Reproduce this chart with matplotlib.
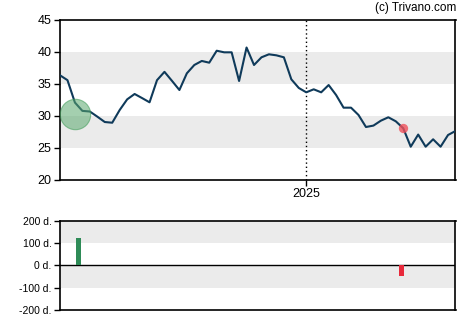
import matplotlib
matplotlib.use("Agg")
import matplotlib.pyplot as plt
import matplotlib.dates as mdates
import numpy as np
import pandas as pd

plt.rcParams['font.family'] = ['Liberation Sans', 'DejaVu Sans']

start_date = "2024-05-15"
prices = [36.36, 35.6, 32.1, 30.8, 30.7, 29.9, 29.06, 28.95, 30.94, 32.6,
          33.44, 32.8, 32.14, 35.6, 36.9, 35.5, 34.06, 36.67, 37.97, 38.6,
          38.33, 40.2, 39.95, 39.95, 35.47, 40.7, 37.97, 39.17, 39.64, 39.48,
          39.17, 35.73, 34.38, 33.7, 34.17, 33.7, 34.84, 33.28, 31.3, 31.3,
          30.16, 28.28, 28.5, 29.27, 29.8, 29.17, 28.08, 25.2, 27.1, 25.2,
          26.36, 25.2, 27.03, 27.66]
dates = pd.date_range(start_date, periods=len(prices), freq="7D")

buy_date = "2024-05-29"
buy_price = 30.27
sell_date = "2025-04-02"
sell_price = 28.08

bar_dates = ["2024-06-01", "2025-03-31"]
bar_values = [122, -46]
bar_colors = ["#2e8b57", "#e8293b"]

y_ticks = [20, 25, 30, 35, 40, 45]
bar_ticks = [-200, -100, 0, 100, 200]
bar_tick_labels = ["-200 d.", "-100 d.", "0 d.", "100 d.", "200 d."]
year_tick = "2025-01-01"

W, H = 470, 325
fig = plt.figure(figsize=(W/100, H/100), dpi=100)
ax = fig.add_axes([60/W, 1-180/H, 395.5/W, 160/H])
ax2 = fig.add_axes([60/W, 1-310/H, 395.5/W, 89.3/H])

band = "#ebebeb"
for a, b in [(25, 30), (35, 40)]:
    ax.axhspan(a, b, color=band, lw=0, zorder=0)
ax.plot(dates, prices, color="#0f3a5a", lw=1.5, zorder=3)
ax.scatter([pd.Timestamp(buy_date)], [buy_price], s=480, color="#5aa86e", alpha=0.55,
           zorder=4, edgecolors="#3c9a55", linewidths=0.8)
ax.scatter([pd.Timestamp(sell_date)], [sell_price], s=45, color="#f0505a", alpha=0.8,
           zorder=4, linewidths=0)
ax.axvline(pd.Timestamp(year_tick), color="black", ls=(0, (1, 2)), lw=1, zorder=2)
ax.set_xlim(dates[0], dates[-1])
ax.set_ylim(20, 45)
ax.set_yticks(y_ticks)
ax.set_xticks([pd.Timestamp(year_tick)])
ax.set_xticklabels(["2025"])
ax.tick_params(axis="both", labelsize=9, length=4, width=1, color="black", pad=2)
for s in ax.spines.values():
    s.set_linewidth(1.2)
    s.set_color("black")

for a, b in [(100, 200), (-100, 0)]:
    ax2.axhspan(a, b, color=band, lw=0, zorder=0)
ax2.axhline(0, color="black", lw=1, zorder=2)
ax2.bar([pd.Timestamp(d) for d in bar_dates], bar_values, width=4.6, color=bar_colors, zorder=3)
ax2.set_xlim(dates[0], dates[-1])
ax2.set_ylim(-200, 200)
ax2.set_yticks(bar_ticks)
ax2.set_yticklabels(bar_tick_labels)
ax2.set_xticks([])
ax2.tick_params(axis="y", labelsize=7.5, length=4, width=1, pad=2)
for s in ax2.spines.values():
    s.set_linewidth(1.2)
    s.set_color("black")

fig.text(456/W, 1-8/H, "(c) Trivano.com", ha="right", va="center", fontsize=8.5)

fig.savefig("out.png", dpi=100)
